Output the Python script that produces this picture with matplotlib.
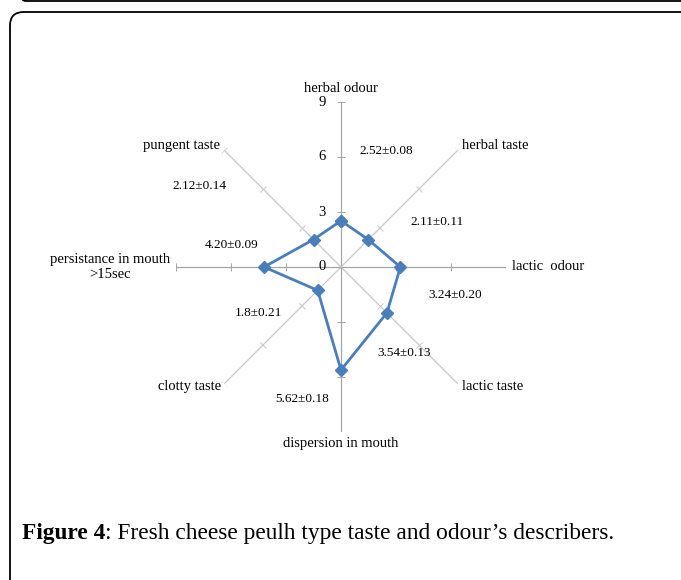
import numpy as np
import matplotlib
matplotlib.use("Agg")
import matplotlib.pyplot as plt
from matplotlib.markers import MarkerStyle
from matplotlib.transforms import Affine2D
from matplotlib.patches import FancyBboxPatch

plt.rcParams['font.family'] = ['Liberation Serif', 'DejaVu Serif']

# describers, clockwise from the top
describers = ["herbal odour", "herbal taste", "lactic  odour", "lactic taste",
              "dispersion in mouth", "clotty taste",
              "persistance in mouth\n>15sec", "pungent taste"]
scores = [2.52, 2.11, 3.24, 3.54, 5.62, 1.8, 4.20, 2.12]
errors = ["0.08", "0.11", "0.20", "0.13", "0.18", "0.21", "0.09", "0.14"]
score_labels = ["2.52", "2.11", "3.24", "3.54", "5.62", "1.8", "4.20", "2.12"]
rticks = [0, 3, 6, 9]

W, H = 681, 580
fig = plt.figure(figsize=(W / 100, H / 100), dpi=100)

def px(x, y):
    return x / W, 1 - y / H

# frame around the figure panel
frame = FancyBboxPatch(px(10, 640), (W + 40) / W, 628 / H,
                       boxstyle="round,pad=0,rounding_size=0.02",
                       transform=fig.transFigure, fill=False,
                       ec="black", lw=1.3, mutation_aspect=W / H)
fig.patches.append(frame)
top = FancyBboxPatch(px(12, 1), (W + 40) / W, 100 / H,
                     boxstyle="round,pad=0,rounding_size=0.02",
                     transform=fig.transFigure, fill=False,
                     ec="black", lw=1.3, mutation_aspect=W / H)
fig.patches.append(top)

cx, cy, R = 341, 267, 165
ax = fig.add_axes([(cx - R) / W, (H - cy - R) / H, 2 * R / W, 2 * R / H],
                  projection="polar")
ax.set_theta_zero_location("N")
ax.set_theta_direction(-1)
ax.set_ylim(0, 9)
ax.grid(False)
ax.set_xticks([])
ax.set_yticks([])
ax.spines["polar"].set_visible(False)
ax.patch.set_alpha(0)

n = len(describers)
angles = np.arange(n) * 2 * np.pi / n

for i, th in enumerate(angles):
    col = "#A6A6A6" if i % 2 == 0 else "#C8C8C8"
    ax.plot([th, th], [0, 9], color=col, lw=0.9, zorder=1)
    tick = MarkerStyle("_", transform=Affine2D().rotate_deg(-np.degrees(th)))
    ax.plot([th] * 3, rticks[1:], ls="none", marker=tick, ms=6,
            mec=col, mew=0.7, zorder=1)

# radial tick labels on the vertical axis
for r in rticks:
    ax.annotate(str(r), (0, r), xytext=(-19, 0), textcoords="offset pixels",
                ha="center", va="center", fontsize=10.5)

vals = scores + scores[:1]
th_closed = np.append(angles, angles[0])
ax.plot(th_closed, vals, color="#4A7EBB", lw=2.0, marker="D", ms=6,
        mfc="#4A7EBB", mec="#4A7EBB", zorder=3, clip_on=False)

# category labels at the spoke ends
label_offsets = [((0, 14), "center", "center"),
                 ((4, 5), "left", "center"),
                 ((6, 0), "left", "center"),
                 ((4, -3), "left", "center"),
                 ((0, -12), "center", "center"),
                 ((-3, -3), "right", "center"),
                 ((-6, 0), "right", "center"),
                 ((-4, 5), "right", "center")]
for th, name, (off, ha, va) in zip(angles, describers, label_offsets):
    ax.annotate(name, (th, 9), xytext=off, textcoords="offset pixels",
                ha=ha, va=va, fontsize=10.5, multialignment="center",
                annotation_clip=False)

# mean ± sd labels
value_pos = [(386, 151), (437, 222), (455, 295), (404, 353),
             (302, 399), (258, 313), (232, 245), (199, 186)]
for (x, y), s, e in zip(value_pos, score_labels, errors):
    fig.text(*px(x, y), s + "±" + e, ha="center", va="center", fontsize=9.5)

# caption
t1 = fig.text(*px(22, 533), "Figure 4", ha="left", va="center",
              fontsize=16.8, fontweight="bold")
ax.annotate(": Fresh cheese peulh type taste and odour\u2019s describers.",
            xy=(1, 0), xycoords=t1, va="bottom", ha="left", fontsize=16.8,
            annotation_clip=False)

fig.savefig("out.png", dpi=100)
